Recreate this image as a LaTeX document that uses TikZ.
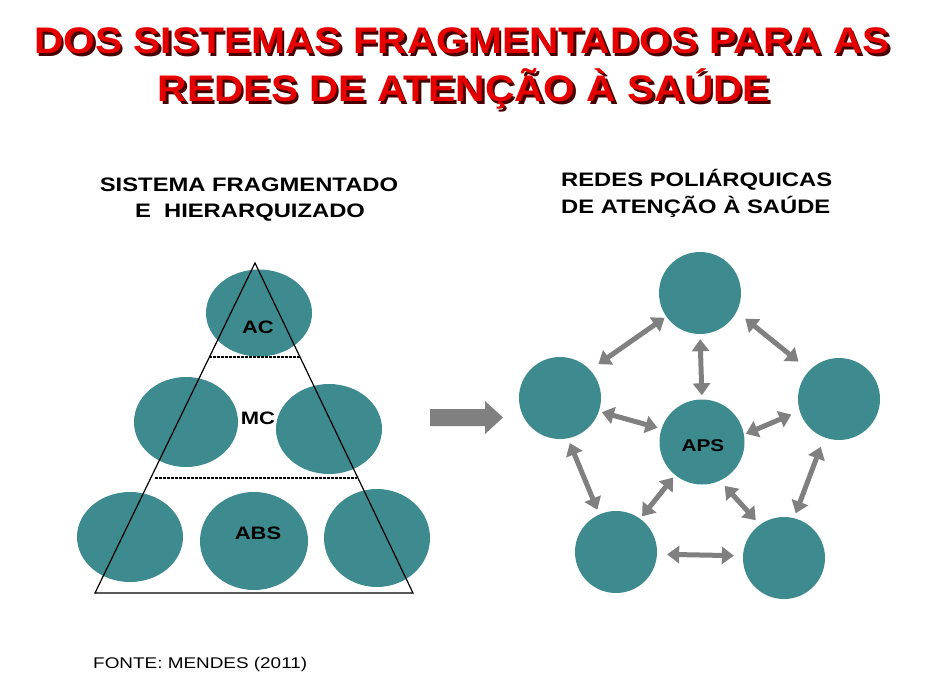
\documentclass[tikz,border=0pt]{standalone}
\usepackage{fontspec}
\setmainfont{Liberation Sans}
\newfontfamily\titlefont[FakeStretch=1.1]{Liberation Sans}
\newfontfamily\subfont[FakeStretch=1.22]{Liberation Sans}
\usetikzlibrary{arrows.meta,shapes.geometric}
\definecolor{tealc}{RGB}{61,139,143}
\definecolor{titlered}{RGB}{230,0,0}
\definecolor{shadowc}{RGB}{70,0,0}
\definecolor{arrowgray}{RGB}{128,128,128}
\newcommand{\shadowtitle}[1]{\rlap{\hspace{2.5pt}\raisebox{-2.5pt}{\textcolor{shadowc}{#1}}}\textcolor{titlered}{#1}}
\begin{document}
\begin{tikzpicture}[x=1pt,y=-1pt,
  titletext/.style={font=\titlefont\fontsize{37}{37}\selectfont\bfseries, inner sep=0, anchor=center},
  subtext/.style={font=\subfont\fontsize{19.5}{19.5}\selectfont\bfseries, inner sep=0},
  lbl/.style={font=\subfont\fontsize{18}{18}\selectfont\bfseries, inner sep=0},
  oval/.style={ellipse, fill=tealc, inner sep=0},
  disc/.style={circle, fill=tealc, inner sep=0, minimum size=82pt},
  biarrow/.style={draw=arrowgray, line width=5pt, {Triangle[length=12pt,width=17pt]}-{Triangle[length=12pt,width=17pt]}},
  dots/.style={line width=2.5pt, dash pattern=on 2.5pt off 1.5pt}
]
\useasboundingbox (0,0) rectangle (927,691);
\fill[white] (0,0) rectangle (927,691);

% Title
\node[titletext] (t1) at (462,42.5) {\shadowtitle{DOS SISTEMAS FRAGMENTADOS PARA AS}};
\node[titletext] (t2) at (464,90.5) {\shadowtitle{REDES DE ATENÇÃO À SAÚDE}};

% Subtitles
\node[subtext] (sl1) at (249,185) {SISTEMA FRAGMENTADO};
\node[subtext] (sl2) at (250,213) {E\ \ HIERARQUIZADO};
\node[subtext, anchor=west] (sr1) at (561,180) {REDES POLIÁRQUICAS};
\node[subtext, anchor=west] (sr2) at (561,207) {DE ATENÇÃO À SAÚDE};

% Left pyramid
\node[oval, minimum width=106pt, minimum height=87pt] (ac) at (259,313) {};
\node[oval, minimum width=104pt, minimum height=90pt] (mcl) at (186,422) {};
\node[oval, minimum width=106pt, minimum height=90pt] (mcr) at (329,429) {};
\node[oval, minimum width=106pt, minimum height=90pt] (bl) at (130,537) {};
\node[oval, minimum width=108pt, minimum height=98pt] (bm) at (254,541) {};
\node[oval, minimum width=106pt, minimum height=98pt] (br) at (377,538) {};

\coordinate (apex) at (255,263);
\coordinate (baseL) at (95,593);
\coordinate (baseR) at (413,593);
\draw[line width=1.2pt] (apex) -- (baseL) -- (baseR) -- cycle;

\coordinate (d1a) at (209,357);
\coordinate (d1b) at (300,357);
\coordinate (d2a) at (155,478);
\coordinate (d2b) at (357,478);
\draw[dots] (d1a) -- (d1b);
\draw[dots] (d2a) -- (d2b);

\node[lbl] (acl) at (258,327) {AC};
\node[lbl] (mcl2) at (258,418) {MC};
\node[lbl] (absl) at (258,533) {ABS};

% Big arrow
\fill[arrowgray] (430,409) -- (485,409) -- (485,401) -- (503,417.5) -- (485,434) -- (485,426) -- (430,426) -- cycle;

% Right network
\node[disc] (T) at (700,293) {};
\node[disc] (L) at (560,398) {};
\node[disc] (R) at (839,399) {};
\node[disc, minimum size=85pt] (C) at (702,442) {};
\node[disc] (BL) at (616,552) {};
\node[disc] (BR) at (784,558) {};
\node[font=\subfont\fontsize{17}{17}\selectfont\bfseries, inner sep=0] (apsl) at (703,446) {APS};

\draw[biarrow, shorten <=2pt, shorten >=10pt] (T.215.5) -- (L.43.4);
\draw[biarrow, shorten <=11pt, shorten >=14pt] (T.333.9) -- (R.136.5);
\draw[biarrow, shorten <=5pt, shorten >=4pt] (T.270) -- (C.90);
\draw[biarrow, shorten <=3pt, shorten >=4pt] (L.341.6) -- (C.162.4);
\draw[biarrow, shorten <=9pt, shorten >=2pt] (R.197.4) -- (C.10.5);
\draw[biarrow, shorten <=5pt, shorten >=5pt] (L.281.3) -- (BL.114.3);
\draw[biarrow, shorten <=3pt, shorten >=3pt] (C.231.1) -- (BL.54.2);
\draw[biarrow, shorten <=7pt, shorten >=6pt] (C.295) -- (BR.126.4);
\draw[biarrow, shorten <=10pt, shorten >=5pt] (R.249.4) -- (BR.76.3);
\draw[biarrow, shorten <=10pt, shorten >=9pt] (BL.357.8) -- (BR.177.7);

% Source
\node[font=\subfont\fontsize{15.5}{15.5}\selectfont, anchor=west, inner sep=0] (fonte) at (93,664) {FONTE: MENDES (2011)};
\end{tikzpicture}
\end{document}
